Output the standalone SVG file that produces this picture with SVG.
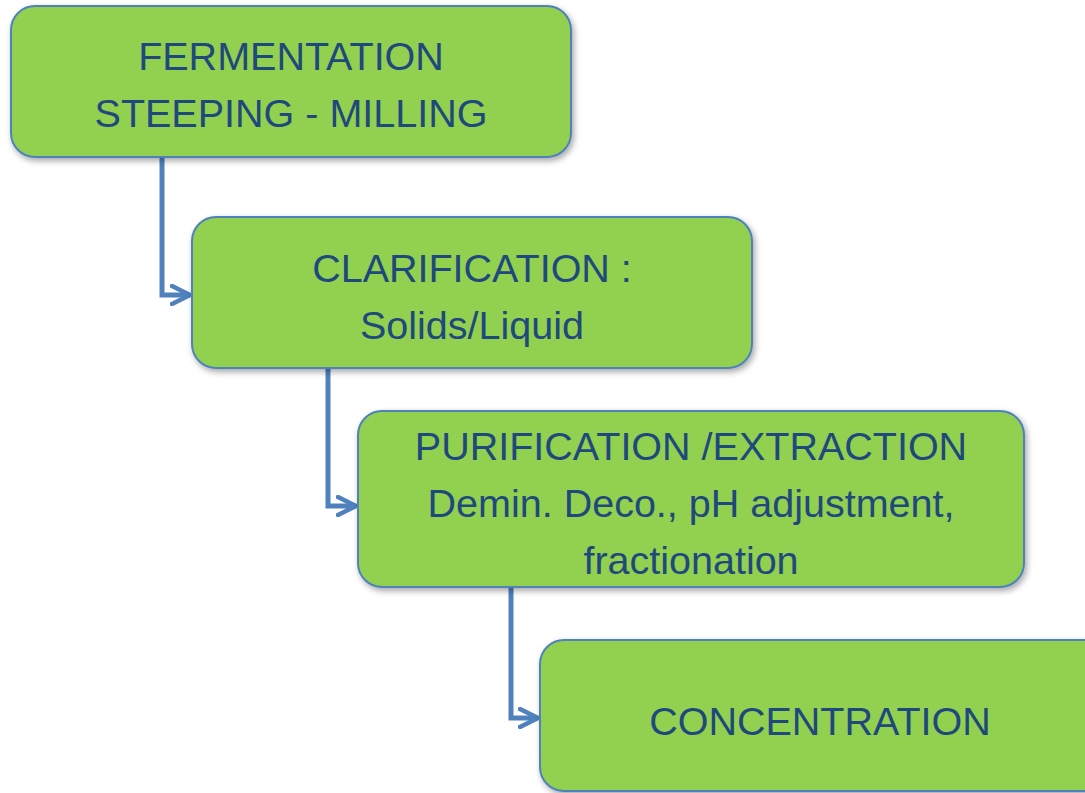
<svg xmlns="http://www.w3.org/2000/svg" width="1085" height="793" viewBox="0 0 1085 793">
<style>
.box{fill:#92D050;stroke:#4F81BD;stroke-width:2;filter:url(#sh)}
.t{font-family:"Liberation Sans",Arial,sans-serif;font-size:39.5px;fill:#1F497D;text-anchor:middle}
.c{fill:none;stroke:#4F81BD;stroke-width:5;marker-end:url(#ah)}
</style>
<defs>
<filter id="sh" x="-10%" y="-10%" width="120%" height="130%">
<feDropShadow dx="2" dy="3" stdDeviation="3" flood-color="#000" flood-opacity="0.35"/>
</filter>
<marker id="ah" viewBox="0 0 10 10" refX="9" refY="5" markerWidth="4.5" markerHeight="4.5" markerUnits="strokeWidth" orient="auto">
<path d="M1,1 L9,5 L1,9" fill="none" stroke="#4F81BD" stroke-width="2" stroke-linecap="round" stroke-linejoin="round"/>
</marker>
</defs>
<g id="connectors">
<path class="c" d="M162,157 V295 H190"/>
<path class="c" d="M328,368 V506 H356"/>
<path class="c" d="M511,580 V718 H538"/>
</g>
<g id="n1">
<rect class="box" x="11" y="6" width="560" height="151" rx="24"/>
<text class="t" x="291" y="70">FERMENTATION</text>
<text class="t" x="291" y="127">STEEPING - MILLING</text>
</g>
<g id="n2">
<rect class="box" x="192" y="217" width="560" height="151" rx="24"/>
<text class="t" x="472" y="282">CLARIFICATION :</text>
<text class="t" x="472" y="339">Solids/Liquid</text>
</g>
<g id="n3">
<rect class="box" x="358" y="411" width="666" height="176" rx="24"/>
<text class="t" x="691" y="460">PURIFICATION /EXTRACTION</text>
<text class="t" x="691" y="517">Demin. Deco., pH adjustment,</text>
<text class="t" x="691" y="574">fractionation</text>
</g>
<g id="n4">
<rect class="box" x="540" y="640" width="570" height="151" rx="24"/>
<text class="t" x="820" y="735">CONCENTRATION</text>
</g>
</svg>
